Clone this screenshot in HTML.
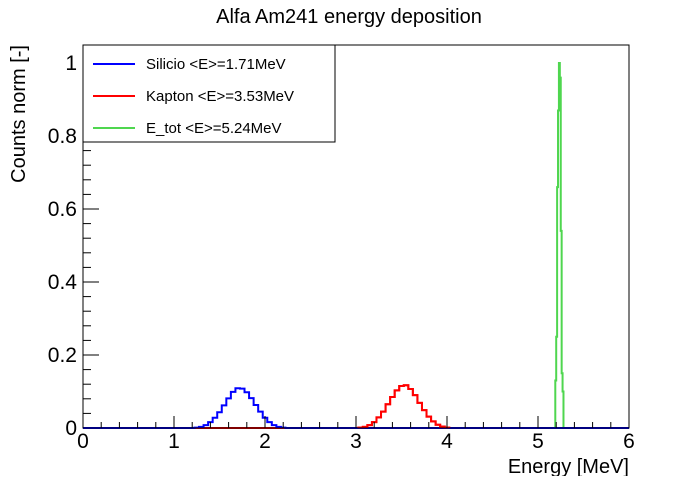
<!DOCTYPE html>
<html><head><meta charset="utf-8"><style>
body{margin:0;background:#fff;}
svg text{font-family:"Liberation Sans",sans-serif;}
</style></head><body>
<svg id="c" width="698" height="476" xmlns="http://www.w3.org/2000/svg">
<rect width="698" height="476" fill="#fff"/>
<text x="349" y="23" font-size="20" text-anchor="middle">Alfa Am241 energy deposition</text>
<g id="plot"></g>
<rect x="83" y="45" width="546" height="383" fill="none" stroke="#000" stroke-width="1"/>
<text x="629" y="473" font-size="20" text-anchor="end">Energy [MeV]</text>
<text transform="translate(25,45) rotate(-90)" font-size="20" text-anchor="end">Counts norm [-]</text>
<g>
<rect x="83" y="45" width="252" height="97" fill="#fff" stroke="#000"/>
<line x1="93" y1="64" x2="135" y2="64" stroke="#0000ff" stroke-width="2"/>
<text x="146" y="69" font-size="15">Silicio &lt;E&gt;=1.71MeV</text>
<line x1="93" y1="96" x2="135" y2="96" stroke="#ff0000" stroke-width="2"/>
<text x="146" y="101" font-size="15">Kapton &lt;E&gt;=3.53MeV</text>
<line x1="93" y1="128" x2="135" y2="128" stroke="#4fd64f" stroke-width="2"/>
<text x="146" y="133" font-size="15">E_tot &lt;E&gt;=5.24MeV</text>
</g>
</svg>
<script>
const blueStart = 1.225, blueBin = 0.05;
const blueVals = [0.001,0.003,0.008,0.016,0.028,0.043,0.062,0.081,0.099,0.109,0.108,0.098,0.082,0.063,0.045,0.028,0.016,0.008,0.003,0.001];
const redStart = 3.025, redBin = 0.05;
const redVals = [0.001,0.003,0.008,0.016,0.029,0.045,0.065,0.085,0.103,0.115,0.117,0.107,0.090,0.069,0.049,0.031,0.018,0.009,0.004,0.001];
const greenStart = 5.19, greenBin = 0.01;
const greenVals = [0.13,0.25,0.66,0.87,1.0,0.96,0.54,0.15,0.1];
const xTicks = [0,1,2,3,4,5,6];
const yTicks = [0,0.2,0.4,0.6,0.8,1];
const yTickLabels = ["0","0.2","0.4","0.6","0.8","1"];

const X0=83,X1=629,Y0=428,Y1=63;
const xs=v=>X0+(v/6)*(X1-X0);
const ys=v=>Y0-v*(Y0-Y1);
const NS="http://www.w3.org/2000/svg";
const g=document.getElementById('plot');
function mk(t,a){const e=document.createElementNS(NS,t);for(const k in a)e.setAttribute(k,a[k]);g.appendChild(e);return e;}

function hist(start,bin,vals,color,name,full){
  let d=`M${full?X0:xs(start)},${ys(0)}`;
  d+=` L${xs(start)},${ys(0)}`;
  vals.forEach((v,i)=>{const a=start+i*bin,b=a+bin;d+=` L${xs(a)},${ys(v)} L${xs(b)},${ys(v)}`;});
  const end=start+vals.length*bin;
  d+=` L${xs(end)},${ys(0)} L${full?X1:xs(end)},${ys(0)}`;
  const p=mk('path',{d:d,fill:'none',stroke:color,'stroke-width':2});
  
  
}
hist(redStart,redBin,redVals,'#ff0000','kapton-histogram',true);
hist(greenStart,greenBin,greenVals,'#4fd64f','etot-histogram',false);
hist(blueStart,blueBin,blueVals,'#0000ff','silicio-histogram',true);
hist(redStart,redBin,redVals,'#ff0000','kapton-peak',false);

for(let i=0;i<=30;i++){const v=i*0.2,x=xs(v);const major=i%5===0;
  const t=mk('line',{x1:x,y1:Y0,x2:x,y2:Y0-(major?12:6),stroke:'#000'});
  
  }
xTicks.forEach(v=>{const t=mk('text',{x:xs(v),y:448,'font-size':21,'text-anchor':'middle'});t.textContent=v;
  
  });
for(let i=0;i<=26;i++){const v=i*0.04,y=ys(v);if(y<45)break;const major=i%5===0;
  const t=mk('line',{x1:X0,y1:y,x2:X0+(major?16:8),y2:y,stroke:'#000'});
  
  }
yTicks.forEach((v,i)=>{const t=mk('text',{x:77,y:ys(v)+7,'font-size':21,'text-anchor':'end'});t.textContent=yTickLabels[i];
  
  });
</script>
</body></html>
